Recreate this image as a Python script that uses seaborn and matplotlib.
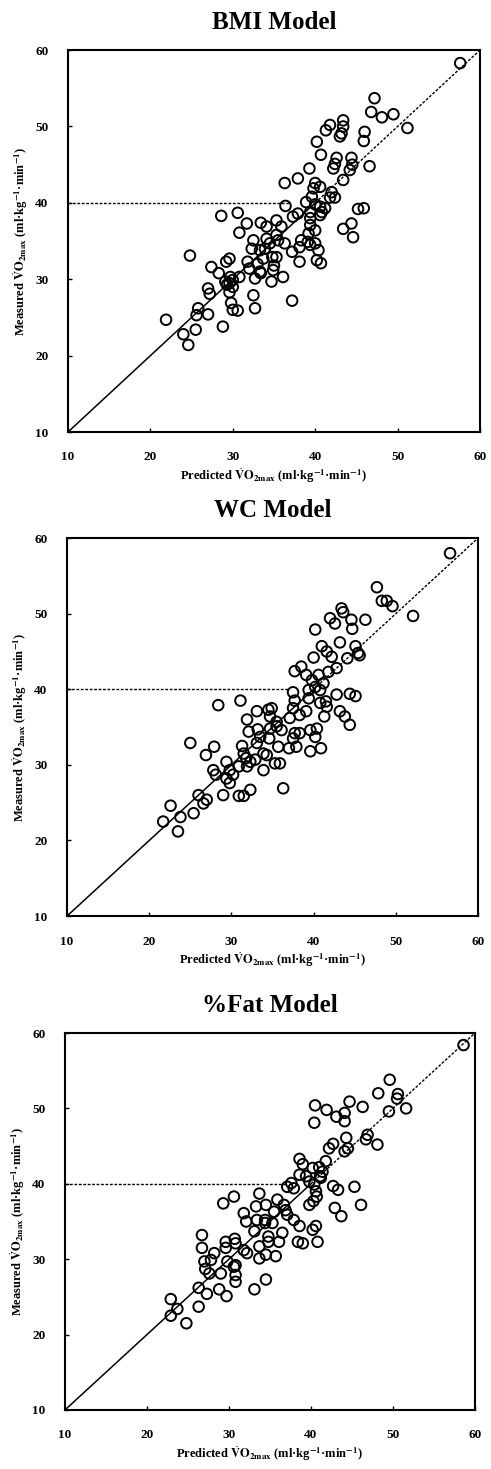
import matplotlib
matplotlib.use("Agg")
import matplotlib.pyplot as plt
import seaborn as sns
import pandas as pd

# BMI model: predicted vs measured VO2max
bmi_pred = [57.6, 47.2, 46.8, 48.1, 49.5, 51.2, 43.4, 43.4, 43.2, 43.0, 41.8, 41.3, 46.0, 45.9,
            40.2, 40.7, 42.6, 42.4, 42.2, 44.4, 44.5, 44.2, 46.6, 39.3, 43.4, 37.9, 36.3, 40.0,
            39.8, 40.6, 42.0, 41.8, 42.4, 38.9, 39.6, 36.4, 40.0, 40.6, 41.2, 45.2, 45.9, 39.4,
            40.6, 40.8, 37.9, 37.3, 28.6, 30.6, 31.7, 30.8, 33.4, 34.1, 35.3, 35.9, 39.4, 39.4,
            40.0, 39.2, 44.4, 43.4, 44.6, 32.5, 35.3, 35.5, 36.3, 34.1, 34.5, 38.3, 39.1, 39.4,
            38.1, 40.0, 32.3, 33.3, 33.9, 37.2, 40.4, 34.8, 35.3, 33.7, 24.8, 29.6, 29.2, 31.8,
            40.2, 40.7, 38.1, 27.4, 32.0, 33.0, 35.0, 34.9, 28.3, 29.7, 30.8, 33.3, 33.4, 32.7,
            36.1, 29.1, 29.6, 30.0, 29.3, 34.7, 27.0, 27.2, 29.6, 30.0, 37.2, 32.5, 29.8, 30.0,
            30.6, 32.7, 25.8, 25.6, 27.0, 21.9, 25.5, 28.8, 24.0, 24.6]
bmi_meas = [58.3, 53.7, 51.9, 51.2, 51.6, 49.8, 50.8, 50.0, 49.1, 48.7, 50.2, 49.5, 49.3, 48.1,
            48.0, 46.3, 45.9, 45.1, 44.5, 45.9, 45.0, 44.3, 44.8, 44.5, 43.0, 43.2, 42.6, 42.6,
            41.9, 42.1, 41.4, 40.7, 40.7, 40.1, 40.8, 39.6, 39.8, 39.5, 39.3, 39.2, 39.3, 38.8,
            38.4, 38.8, 38.6, 38.2, 38.3, 38.7, 37.3, 36.1, 37.4, 36.9, 37.7, 36.9, 38.0, 37.1,
            36.4, 36.0, 37.3, 36.6, 35.5, 35.1, 35.8, 35.1, 34.7, 35.3, 34.7, 35.1, 34.9, 34.5,
            34.2, 34.7, 34.0, 33.8, 34.0, 33.6, 33.8, 32.9, 32.9, 32.7, 33.1, 32.7, 32.3, 32.3,
            32.5, 32.1, 32.3, 31.6, 31.4, 32.0, 31.8, 31.2, 30.8, 30.3, 30.3, 31.0, 30.8, 30.1,
            30.3, 29.7, 29.5, 29.9, 29.3, 29.7, 28.8, 28.1, 28.3, 29.0, 27.2, 27.9, 26.9, 26.0,
            25.9, 26.2, 26.2, 25.3, 25.4, 24.7, 23.4, 23.8, 22.8, 21.4]

# WC model
wc_pred = [56.6, 47.7, 48.3, 48.9, 49.6, 52.1, 43.4, 43.6, 44.6, 46.3, 42.0, 42.6, 44.7, 40.2,
           43.2, 41.0, 45.1, 41.6, 42.2, 45.4, 45.6, 44.1, 40.0, 38.5, 42.8, 41.8, 37.7, 39.1,
           40.6, 39.8, 41.2, 40.2, 39.4, 37.5, 40.8, 42.8, 44.4, 45.1, 39.4, 37.7, 40.8, 41.5,
           41.6, 28.4, 31.1, 33.1, 34.5, 34.9, 34.7, 31.9, 35.5, 37.5, 38.3, 39.1, 41.3, 43.2,
           43.8, 44.4, 37.1, 32.1, 33.2, 34.7, 35.5, 36.1, 38.3, 39.6, 40.4, 40.2, 37.7, 33.5,
           34.6, 37.5, 37.9, 37.0, 35.7, 33.1, 40.9, 39.6, 25.0, 27.9, 31.3, 26.9, 31.5, 31.8,
           33.9, 34.3, 32.9, 35.3, 33.9, 27.8, 28.1, 29.4, 29.8, 30.2, 29.4, 30.9, 31.9, 32.3,
           35.9, 36.3, 29.0, 30.9, 31.5, 32.3, 29.8, 26.0, 26.6, 27.0, 22.6, 25.4, 23.8, 21.7,
           23.5]
wc_meas = [58.0, 53.5, 51.7, 51.7, 51.0, 49.7, 50.7, 50.2, 49.2, 49.2, 49.4, 48.7, 48.0, 47.9,
           46.2, 45.7, 45.7, 45.0, 44.3, 44.8, 44.5, 44.1, 44.2, 43.0, 42.8, 42.3, 42.4, 41.9,
           41.9, 41.2, 40.8, 40.3, 39.9, 39.6, 39.9, 39.3, 39.4, 39.1, 38.8, 38.5, 38.2, 38.4,
           37.7, 37.9, 38.5, 37.1, 37.3, 37.5, 36.4, 36.0, 35.7, 37.5, 36.6, 37.1, 36.4, 37.1,
           36.4, 35.3, 36.2, 34.4, 34.7, 34.8, 35.1, 34.6, 34.2, 34.6, 34.8, 33.7, 34.2, 33.7,
           33.5, 33.5, 32.4, 32.2, 32.4, 32.9, 32.2, 31.8, 32.9, 32.4, 32.5, 31.3, 31.5, 30.9,
           31.5, 31.3, 30.7, 30.2, 29.3, 29.3, 28.7, 30.4, 29.3, 28.7, 28.2, 29.8, 29.8, 30.4,
           30.2, 26.9, 26.0, 25.9, 25.9, 26.7, 27.6, 26.0, 24.9, 25.4, 24.6, 23.6, 23.1, 22.5,
           21.2]

# %Fat model
fat_pred = [58.6, 49.6, 48.2, 50.6, 50.5, 51.6, 49.5, 44.7, 46.3, 40.5, 41.9, 44.1, 43.1, 44.1,
            40.4, 46.9, 46.7, 44.3, 48.1, 42.7, 42.2, 44.5, 44.1, 38.6, 39.0, 41.8, 41.0, 40.2,
            41.4, 38.6, 39.4, 41.1, 39.8, 41.2, 40.4, 37.6, 37.1, 37.9, 42.7, 43.3, 45.3, 40.6,
            40.7, 40.3, 39.8, 29.3, 30.6, 33.7, 34.5, 33.3, 35.9, 36.7, 36.9, 35.5, 42.9, 43.7,
            46.1, 31.8, 32.1, 33.4, 34.4, 34.4, 35.3, 37.1, 37.9, 38.6, 40.6, 40.2, 33.1, 34.8,
            36.5, 26.7, 29.6, 30.7, 30.8, 34.8, 36.1, 38.4, 39.0, 40.8, 26.7, 29.6, 31.8, 33.7,
            32.2, 28.2, 33.7, 34.5, 35.7, 27.0, 27.8, 29.8, 30.6, 30.8, 27.1, 27.6, 29.0, 30.8,
            30.8, 34.5, 28.8, 33.1, 26.3, 27.3, 29.7, 26.3, 22.9, 23.7, 22.9, 24.8]
fat_meas = [58.4, 53.8, 52.0, 51.9, 51.3, 50.0, 49.6, 50.9, 50.2, 50.4, 49.8, 49.4, 48.9, 48.3,
            48.1, 46.5, 45.9, 46.1, 45.2, 45.3, 44.7, 44.7, 44.3, 43.3, 42.6, 43.0, 42.2, 42.1,
            41.6, 41.2, 41.0, 41.0, 40.3, 40.8, 39.9, 40.1, 39.6, 39.4, 39.7, 39.2, 39.6, 39.0,
            38.3, 37.7, 37.2, 37.4, 38.3, 38.7, 37.2, 37.0, 37.9, 37.2, 36.5, 36.3, 36.8, 35.7,
            37.2, 36.1, 35.0, 35.2, 35.2, 34.8, 34.8, 35.9, 35.2, 34.4, 34.4, 33.9, 33.7, 33.0,
            33.5, 33.2, 32.3, 32.7, 32.1, 32.3, 32.3, 32.3, 32.1, 32.3, 31.5, 31.5, 31.2, 31.7,
            30.8, 30.8, 30.1, 30.6, 30.4, 29.7, 29.9, 29.7, 29.0, 29.2, 28.7, 28.1, 28.1, 27.9,
            27.0, 27.3, 26.0, 26.0, 26.2, 25.4, 25.1, 23.7, 24.7, 23.4, 22.5, 21.5]

titles = ["BMI Model", "WC Model", "%Fat Model"]
ticks = [10, 20, 30, 40, 50, 60]
identity_solid = [10, 40]
identity_dotted = [40, 60]
cutoff_x = [10, 37]
cutoff_y = [40, 40]

sns.set_style("ticks")
plt.rcParams['font.family'] = ['Liberation Serif', 'DejaVu Serif']
plt.rcParams['mathtext.fontset'] = 'stix'
plt.rcParams['text.color'] = 'black'
plt.rcParams['axes.labelcolor'] = 'black'
plt.rcParams['xtick.color'] = 'black'
plt.rcParams['ytick.color'] = 'black'
plt.rcParams['axes.edgecolor'] = 'black'

fig = plt.figure(figsize=(4.91, 14.69), dpi=100)
positions = [[0.1385, 0.7059, 0.839, 0.260],
             [0.1365, 0.3764, 0.837, 0.2573],
             [0.1324, 0.0402, 0.835, 0.2566]]
panels = [(bmi_pred, bmi_meas), (wc_pred, wc_meas), (fat_pred, fat_meas)]

xlab = r'Predicted $\dot{\mathbf{V}}\mathbf{O}_{\mathbf{2max}}$ (ml·kg$^{\mathbf{-1}}$·min$^{\mathbf{-1}}$)'
ylab = r'Measured $\dot{\mathbf{V}}\mathbf{O}_{\mathbf{2max}}$ (ml·kg$^{\mathbf{-1}}$·min$^{\mathbf{-1}}$)'

for pos, (pred, meas), title in zip(positions, panels, titles):
    ax = fig.add_axes(pos)
    df = pd.DataFrame({'pred': pred, 'meas': meas})
    ax.plot(identity_solid, identity_solid, color='black', lw=1.1)
    ax.plot(identity_dotted, identity_dotted, color='black', lw=1.0, ls=(0, (2, 1.2)))
    ax.plot(cutoff_x, cutoff_y, color='black', lw=1.0, ls=(0, (2, 1.2)))
    sns.scatterplot(data=df, x='pred', y='meas', ax=ax, marker='o', s=58,
                    facecolors='none', edgecolor='black', linewidth=1.4)
    ax.set_xlim(10, 60)
    ax.set_ylim(10, 60)
    ax.set_xticks(ticks)
    ax.set_yticks(ticks)
    ax.tick_params(direction='in', length=3, width=1, labelsize=9.5)
    ax.tick_params(axis='x', pad=14)
    ax.tick_params(axis='y', pad=14)
    for lab in ax.get_xticklabels() + ax.get_yticklabels():
        lab.set_fontweight('bold')
    for sp in ax.spines.values():
        sp.set_linewidth(1.5)
        sp.set_visible(True)
    ax.set_xlabel(xlab, fontsize=9, fontweight='bold', labelpad=2)
    ax.set_ylabel(ylab, fontsize=9, fontweight='bold', labelpad=4)
    ax.set_title(title, fontsize=18, fontweight='bold', pad=15)

fig.savefig('out.png', dpi=100)
